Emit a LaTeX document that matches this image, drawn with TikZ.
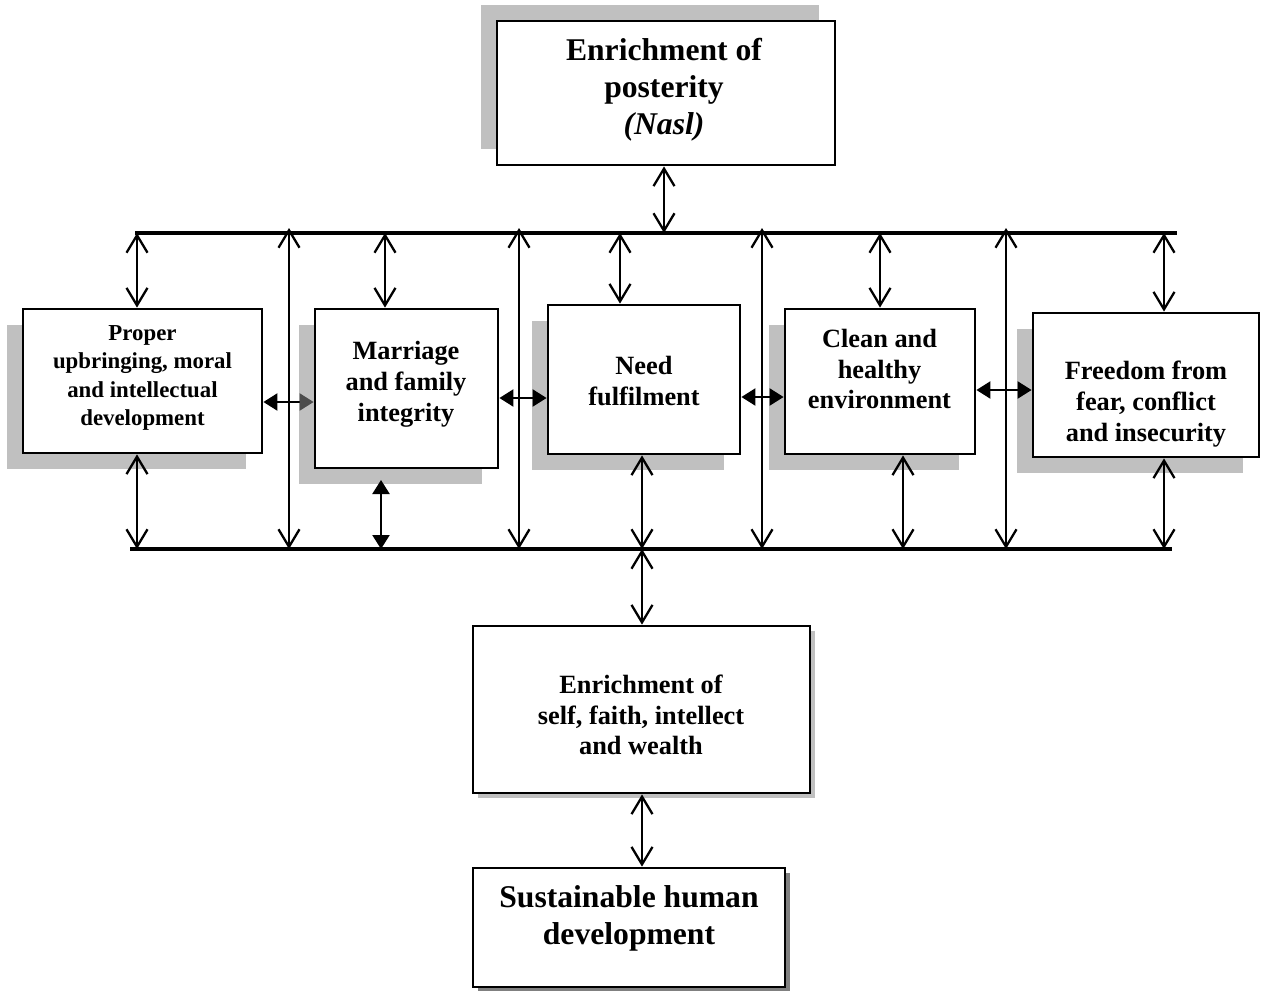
\documentclass[tikz,border=0pt]{standalone}
\usepackage{fontspec}
\setmainfont{Liberation Serif}
\usepackage{tikz}
\usetikzlibrary{arrows.meta, shadows}
\definecolor{shade}{RGB}{192,192,192}
\definecolor{darkshade}{RGB}{128,128,128}

\tikzset{
  box/.style={draw, line width=1.6pt, fill=white, inner sep=0pt},
  shadeup/.style={drop shadow={shadow xshift=-0.32cm, shadow yshift=0.32cm, fill=shade, opacity=1}},
  shadeleft/.style={drop shadow={shadow xshift=-0.32cm, shadow yshift=-0.32cm, fill=shade, opacity=1}},
  shaderight/.style={drop shadow={shadow xshift=0.1cm, shadow yshift=-0.1cm, fill=#1, opacity=1}},
  words/.style 2 args={align=center, inner sep=0pt, font=\fontsize{#1}{#2}\selectfont\bfseries},
  bus/.style={line width=2.2pt},
  twoway/.style={line width=1.3pt, {Straight Barb[length=3.5mm,width=4.2mm]}-{Straight Barb[length=3.5mm,width=4.2mm]}},
  twowayfill/.style={line width=1.3pt, {Triangle[length=2.8mm,width=3.4mm]}-{Triangle[length=2.8mm,width=3.4mm]}},
}

\begin{document}
\begin{tikzpicture}
\useasboundingbox (0,0) rectangle (25.4,-19.8);

% Top box
\node[box, shadeup, minimum width=6.76cm, minimum height=2.88cm] (post) at (13.32,-1.86) {};
\node[words={18pt}{21pt}] (postT) at (13.28,-1.8) {Enrichment of\\posterity\\\textit{(Nasl)}};

% Middle row
\node[box, shadeleft, minimum width=4.78cm, minimum height=2.88cm] (prop) at (2.85,-7.62) {};
\node[words={13pt}{16pt}] (propT) at (2.85,-7.56) {Proper\\upbringing, moral\\and intellectual\\development};

\node[box, shadeleft, minimum width=3.66cm, minimum height=3.18cm] (marr) at (8.13,-7.77) {};
\node[words={15pt}{17.6pt}] (marrT) at (8.12,-7.68) {Marriage\\and family\\integrity};

\node[box, shadeleft, minimum width=3.84cm, minimum height=2.98cm] (need) at (12.88,-7.59) {};
\node[words={15pt}{17.6pt}] (needT) at (12.88,-7.62) {Need\\fulfilment};

\node[box, shadeleft, minimum width=3.8cm, minimum height=2.9cm] (clean) at (17.6,-7.63) {};
\node[words={15pt}{17.6pt}] (cleanT) at (17.59,-7.38) {Clean and\\healthy\\environment};

\node[box, shadeleft, minimum width=4.52cm, minimum height=2.88cm] (free) at (22.92,-7.7) {};
\node[words={15pt}{17.6pt}] (freeT) at (22.92,-8.08) {Freedom from\\fear, conflict\\and insecurity};

% Bottom boxes
\node[box, shaderight=shade, minimum width=6.74cm, minimum height=3.34cm] (self) at (12.83,-14.19) {};
\node[words={15pt}{17.4pt}] (selfT) at (12.82,-14.3) {Enrichment of\\self, faith, intellect\\and wealth};

\node[box, shaderight=darkshade, minimum width=6.24cm, minimum height=2.38cm] (shd) at (12.58,-18.55) {};
\node[words={18pt}{21pt}] (shdT) at (12.58,-18.36) {Sustainable human\\development};

% Bus lines
\coordinate (tL) at (2.7,-4.66);
\coordinate (tR) at (23.54,-4.66);
\coordinate (bL) at (2.6,-10.98);
\coordinate (bR) at (23.44,-10.98);
\draw[bus] (tL) -- (tR);
\draw[bus] (bL) -- (bR);

% Columns of the arrows
\foreach \n/\x in {k1/2.74, k2/5.78, k3/7.70, k5/10.38, k6/12.40, k7/12.84, k8/13.28,
                   k9/15.24, k10/17.60, k11/18.06, k12/20.12, k13/23.28}
  \coordinate (\n) at (\x,-4.56);
\coordinate (k4) at (7.62,-9.6);

% Top box to bus
\draw[twoway] (k8 |- post.south) -- (k8 |- tL);

% Bus to boxes
\foreach \k/\b in {k1/prop, k3/marr, k6/need, k10/clean, k13/free}
  \draw[twoway] (\k |- tL) -- (\k |- \b.north);
\foreach \k/\b in {k1/prop, k7/need, k11/clean, k13/free}
  \draw[twoway] (\k |- \b.south) -- (\k |- bL);
\draw[twowayfill] (k4) -- (k4 |- bL);

% Long arrows between buses
\foreach \k in {k2, k5, k9, k12}
  \draw[twoway] (\k) -- (\k |- bL);

% Side links
\coordinate (r1) at (0,-8.04);
\coordinate (r2) at (0,-7.96);
\coordinate (r3) at (0,-7.94);
\coordinate (r4) at (0,-7.80);
\draw[line width=1.3pt, {Triangle[length=2.8mm,width=3.4mm]}-{Triangle[length=2.8mm,width=3.4mm,color=black!70]}] (prop.east |- r1) -- (marr.west |- r1);
\draw[twowayfill] (marr.east |- r2) -- (need.west |- r2);
\draw[twowayfill] (need.east |- r3) -- (clean.west |- r3);
\draw[twowayfill] (clean.east |- r4) -- (free.west |- r4);

% Bottom chain
\draw[twoway] (k7 |- bL) -- (k7 |- self.north);
\draw[twoway] (k7 |- self.south) -- (k7 |- shd.north);

\end{tikzpicture}
\end{document}
